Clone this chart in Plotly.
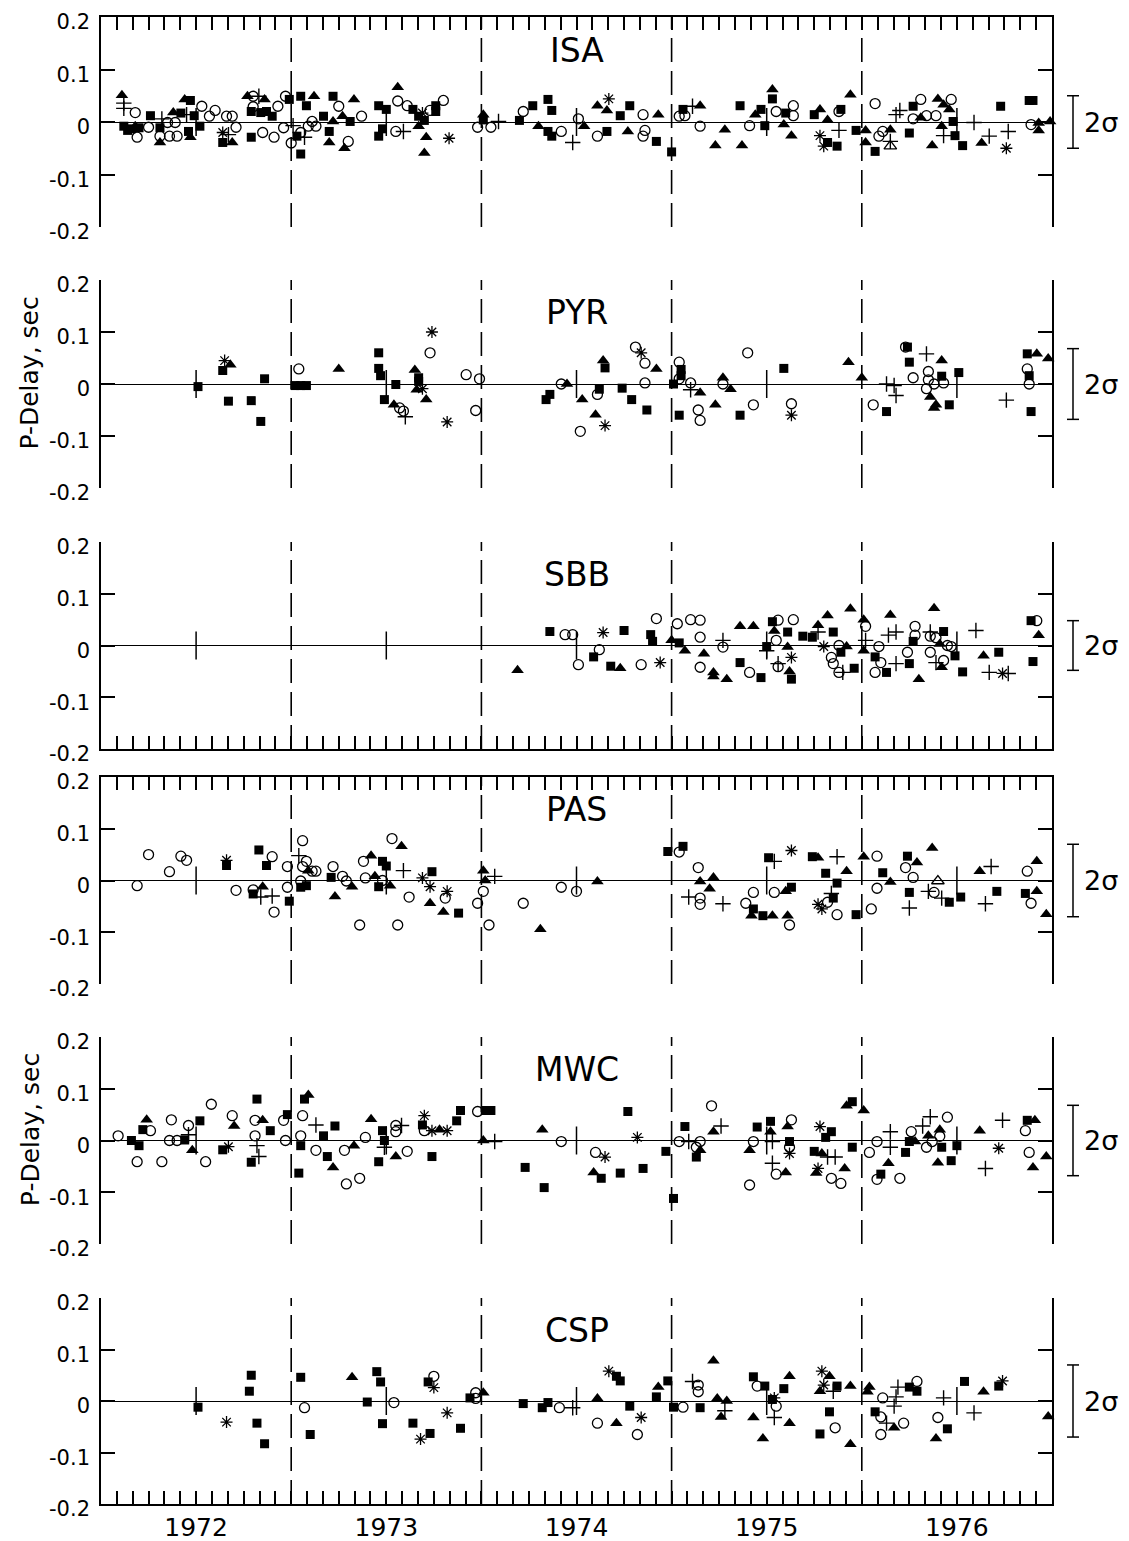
import plotly.graph_objects as go

# ---------------- data ----------------
STATIONS = ["ISA", "PYR", "SBB", "PAS", "MWC", "CSP"]
YEAR_BOUNDS = [1973, 1974, 1975, 1976]
MID_YEARS = [1972.5, 1973.5, 1974.5, 1975.5, 1976.5]
YEAR_LABELS = ["1972", "1973", "1974", "1975", "1976"]
DELAY_TICKS = [-0.2, -0.1, 0, 0.1, 0.2]
DELAY_TICK_TEXT = ["-0.2", "-0.1", "0", "0.1", "0.2"]
TWO_SIGMA_HALF = [0.05, 0.068, 0.048, 0.07, 0.068, 0.07]
# kind codes: S filled square, T filled triangle, O open circle, P plus, X asterisk, t open triangle

ISA_year = [1972.11, 1972.12, 1972.12, 1972.12, 1972.14, 1972.18, 1972.16, 1972.18, 1972.20, 1972.19,
            1972.25, 1972.26, 1972.31, 1972.31, 1972.32, 1972.31, 1972.36, 1972.40, 1972.35, 1972.39,
            1972.38, 1972.42, 1972.44, 1972.47, 1972.45, 1972.46, 1972.47, 1972.49, 1972.52, 1972.53,
            1972.57, 1972.60, 1972.66, 1972.69, 1972.71, 1972.64, 1972.67, 1972.64, 1972.69, 1972.79,
            1972.77, 1972.83, 1972.80, 1972.86, 1972.80, 1972.79, 1972.84, 1972.87, 1972.90, 1972.85,
            1972.91, 1972.93, 1972.97, 1972.96, 1972.99, 1973.00, 1973.01, 1973.03, 1973.05, 1973.05,
            1973.07, 1973.05, 1973.08, 1973.12, 1973.11, 1973.09, 1973.13, 1973.17, 1973.22, 1973.25,
            1973.22, 1973.20, 1973.20, 1973.27, 1973.30, 1973.28, 1973.31, 1973.33, 1973.37, 1973.46,
            1973.50, 1973.46, 1973.48, 1973.55, 1973.56, 1973.56, 1973.61, 1973.64, 1973.69, 1973.67,
            1973.67, 1973.70, 1973.73, 1973.76, 1973.76, 1973.80, 1973.59, 1973.71, 1973.70, 1973.83,
            1974.01, 1974.01, 1973.98, 1974.05, 1974.09, 1974.20, 1974.22, 1974.27, 1974.35, 1974.37,
            1974.30, 1974.35, 1974.37, 1974.42, 1974.48, 1974.51, 1974.54, 1974.61, 1974.67, 1974.66,
            1974.61, 1974.66, 1974.73, 1974.78, 1974.85, 1974.77, 1974.86, 1974.85, 1974.93, 1974.92,
            1975.00, 1975.04, 1975.07, 1975.06, 1975.11, 1975.15, 1975.15, 1975.28, 1975.23, 1975.36,
            1975.37, 1975.41, 1975.44, 1975.47, 1975.49, 1975.53, 1975.53, 1975.55, 1975.60, 1975.64,
            1975.64, 1975.59, 1975.63, 1975.75, 1975.78, 1975.82, 1975.88, 1975.78, 1975.82, 1975.80,
            1975.87, 1975.88, 1975.89, 1975.94, 1975.97, 1976.02, 1976.02, 1976.07, 1976.07, 1976.09,
            1976.11, 1976.15, 1976.15, 1976.15, 1976.18, 1976.20, 1976.25, 1976.27, 1976.27, 1976.31,
            1976.31, 1976.34, 1976.40, 1976.39, 1976.43, 1976.47, 1976.46, 1976.48, 1976.42, 1976.43,
            1976.49, 1976.37, 1976.53, 1976.59, 1976.63, 1976.67, 1976.77, 1976.76, 1976.73, 1976.90,
            1976.88, 1976.89, 1976.93, 1976.93, 1976.99]
ISA_delay = [0.051, 0.036, 0.026, -0.008, -0.016, 0.018, -0.013, -0.008, -0.011, -0.029,
             -0.010, 0.012, -0.039, -0.011, 0.006, -0.027, -0.027, -0.027, -0.001, -0.001,
             0.018, 0.017, 0.043, 0.041, 0.014, -0.018, -0.029, 0.012, -0.008, 0.030,
             0.011, 0.022, 0.011, 0.011, -0.010, -0.020, -0.024, -0.039, -0.039, -0.029,
             0.049, 0.049, 0.049, 0.043, 0.029, 0.020, 0.018, 0.020, 0.011, -0.020,
             -0.029, 0.030, 0.049, -0.011, 0.043, -0.040, -0.007, -0.027, -0.061, -0.020,
             -0.029, 0.049, 0.031, 0.049, 0.001, -0.008, -0.008, 0.011, 0.049, 0.030,
             0.001, -0.018, -0.039, 0.011, -0.037, -0.050, 0.001, 0.043, 0.011, 0.031,
             0.024, -0.027, -0.013, -0.018, 0.066, 0.040, 0.031, 0.024, 0.017, 0.011,
             -0.008, 0.003, 0.022, 0.031, 0.020, 0.041, -0.018, -0.029, -0.059, -0.031,
             0.014, 0.004, -0.010, -0.010, 0.001, 0.003, 0.020, 0.031, 0.043, 0.022,
             -0.008, -0.018, -0.027, -0.018, -0.039, 0.006, -0.008, 0.031, 0.044, 0.022,
             -0.027, -0.018, 0.012, 0.031, 0.014, -0.018, -0.016, -0.027, 0.014, -0.037,
             -0.057, 0.011, 0.012, 0.024, 0.030, 0.031, -0.008, -0.015, -0.045, 0.031,
             -0.045, -0.007, 0.014, 0.024, -0.007, 0.062, 0.044, 0.020, 0.017, 0.031,
             0.012, -0.005, -0.026, 0.014, 0.024, 0.004, -0.016, -0.026, -0.039, -0.046,
             -0.046, 0.020, 0.024, 0.052, -0.016, -0.016, -0.039, 0.035, -0.056, -0.027,
             -0.018, -0.015, -0.046, -0.037, 0.014, 0.022, -0.021, 0.006, 0.030, 0.043,
             0.008, 0.012, 0.044, 0.012, 0.033, 0.043, 0.024, 0.001, -0.008, -0.026,
             -0.026, -0.045, -0.045, -0.001, -0.040, -0.027, -0.018, -0.050, 0.030, 0.041,
             0.041, -0.005, -0.016, -0.002, 0.001]
ISA_kind = ("TPPSSOSTSO" "OSTSPOOOOO" "TSTSPSTSSO" "OOOOOXPSTS" "TPOTOSSSSO"
            "OOOOSOPSSO" "PSSTOOOSSO" "TSTTOTSTOS" "SSSOTOOSXS" "TSOSSOPTTX"
            "TSOOPSOSSS" "TSSOPOTTXT" "OSSSOTOOTS" "SOOSPTOTTS" "TOTSSTSOSO"
            "OTTSTTPXSX" "SOSTSTTOSO" "OTtPPPSOSO" "TOTOTOTSTP" "STSPTPPXSS"
            "SOTTT")

PYR_year = [1972.51, 1972.65, 1972.64, 1972.68, 1972.67, 1972.79, 1972.84, 1972.86, 1973.04, 1973.02,
            1973.05, 1973.08, 1973.25, 1973.46, 1973.46, 1973.47, 1973.49, 1973.55, 1973.54, 1973.57,
            1973.59, 1973.60, 1973.65, 1973.67, 1973.67, 1973.66, 1973.69, 1973.71, 1973.73, 1973.74,
            1973.82, 1973.92, 1973.99, 1973.97, 1974.42, 1974.45, 1974.34, 1974.36, 1974.53, 1974.52,
            1974.60, 1974.65, 1974.62, 1974.61, 1974.64, 1974.65, 1974.74, 1974.79, 1974.87, 1974.81,
            1974.84, 1974.86, 1974.92, 1974.86, 1975.01, 1975.04, 1975.05, 1975.05, 1975.04, 1975.10,
            1975.10, 1975.15, 1975.04, 1975.14, 1975.15, 1975.23, 1975.27, 1975.27, 1975.31, 1975.36,
            1975.43, 1975.40, 1975.59, 1975.63, 1975.63, 1975.93, 1976.00, 1976.06, 1976.13, 1976.13,
            1976.17, 1976.18, 1976.23, 1976.24, 1976.34, 1976.25, 1976.27, 1976.42, 1976.35, 1976.35,
            1976.34, 1976.38, 1976.42, 1976.43, 1976.36, 1976.39, 1976.38, 1976.46, 1976.51, 1976.76,
            1976.87, 1976.92, 1976.98, 1976.87, 1976.88, 1976.88, 1976.89]
PYR_delay = [-0.005, 0.045, 0.026, 0.037, -0.033, -0.032, -0.072, 0.010, 0.029, -0.003,
             -0.003, -0.003, 0.029, 0.060, 0.030, 0.016, -0.030, -0.001, -0.040, -0.046,
             -0.052, -0.063, 0.027, 0.012, 0.005, -0.011, -0.009, -0.030, 0.060, 0.100,
             -0.073, 0.018, 0.010, -0.051, 0.000, 0.000, -0.030, -0.020, -0.030, -0.091,
             -0.059, -0.080, -0.010, -0.020, 0.045, 0.031, -0.008, -0.030, -0.050, 0.071,
             0.060, 0.040, 0.029, 0.002, 0.000, 0.042, 0.028, 0.016, 0.010, 0.002,
             -0.011, -0.017, -0.060, -0.050, -0.070, -0.040, 0.012, 0.000, -0.010, -0.060,
             -0.040, 0.060, 0.030, -0.038, -0.060, 0.042, 0.012, -0.040, -0.053, 0.000,
             -0.003, -0.022, 0.071, 0.071, 0.058, 0.042, 0.012, 0.045, 0.024, 0.008,
             -0.009, 0.000, 0.015, 0.002, -0.025, -0.040, -0.046, -0.040, 0.022, -0.031,
             0.058, 0.058, 0.049, 0.029, 0.016, 0.000, -0.053]
PYR_kind = ("SXSTSSSSOS" "SSTSSSSSTO" "OPTSSTXTOX" "XOOOOTSSTO" "TXSOTSSSSO"
            "XOTOSOSSOO" "PTSOOTTOTS" "OOSOXTTOSP" "PPOSPSOTOO" "OOSOTTTSSP"
            "STTOSOS")

SBB_year = [1974.19, 1974.36, 1974.44, 1974.48, 1974.51, 1974.59, 1974.64, 1974.62, 1974.68, 1974.75,
            1974.73, 1974.84, 1974.89, 1974.92, 1974.90, 1974.94, 1975.00, 1975.03, 1975.10, 1975.15,
            1975.04, 1975.07, 1975.15, 1975.15, 1975.17, 1975.27, 1975.27, 1975.22, 1975.22, 1975.29,
            1975.36, 1975.43, 1975.36, 1975.41, 1975.47, 1975.53, 1975.56, 1975.64, 1975.61, 1975.54,
            1975.55, 1975.50, 1975.50, 1975.61, 1975.56, 1975.56, 1975.63, 1975.62, 1975.63, 1975.69,
            1975.74, 1975.77, 1975.77, 1975.82, 1975.85, 1975.80, 1975.88, 1975.84, 1975.85, 1975.88,
            1975.90, 1975.89, 1975.92, 1975.94, 1975.96, 1976.01, 1976.02, 1976.02, 1976.01, 1976.07,
            1976.09, 1976.10, 1976.07, 1976.13, 1976.15, 1976.14, 1976.18, 1976.18, 1976.24, 1976.25,
            1976.28, 1976.28, 1976.27, 1976.30, 1976.36, 1976.38, 1976.36, 1976.39, 1976.43, 1976.41,
            1976.36, 1976.39, 1976.43, 1976.42, 1976.45, 1976.47, 1976.49, 1976.53, 1976.60, 1976.64,
            1976.72, 1976.67, 1976.74, 1976.77, 1976.89, 1976.92, 1976.93, 1976.90]
SBB_delay = [-0.048, 0.027, 0.021, 0.021, -0.037, -0.022, 0.025, -0.008, -0.040, 0.029,
             -0.044, -0.037, 0.021, 0.052, 0.008, -0.033, 0.010, 0.042, 0.050, 0.049,
             0.005, -0.010, 0.016, -0.042, -0.016, 0.010, -0.003, -0.052, -0.060, -0.065,
             0.037, 0.037, -0.033, -0.052, -0.062, 0.046, 0.049, 0.050, 0.026, 0.028,
             0.010, -0.002, -0.010, -0.003, -0.035, -0.041, -0.023, -0.050, -0.065, 0.018,
             0.016, 0.039, 0.026, 0.058, 0.026, -0.002, 0.000, -0.023, -0.035, -0.052,
             -0.052, -0.013, -0.002, 0.071, -0.044, 0.050, 0.037, 0.010, -0.010, -0.022,
             -0.002, -0.033, -0.052, -0.052, 0.059, 0.020, 0.026, -0.035, -0.013, -0.035,
             0.037, 0.020, 0.008, -0.065, 0.026, 0.072, 0.018, 0.015, 0.027, 0.003,
             -0.013, -0.033, -0.029, -0.042, 0.000, -0.002, -0.020, -0.051, 0.029, -0.020,
             -0.013, -0.052, -0.054, -0.054, 0.048, 0.048, 0.020, -0.031]
SBB_kind = ("TSOOOSXOSS" "TOSOSXTOOO" "STOOTPOTTT" "TTSOSSOOST" "OSPTPOXTSS"
            "STPTSXOOOO" "PSTTSTOPTS" "OOOSTPPPOS" "OOSTPTOOST" "OPOTOOSSPT"
            "SPXPSOTS")

PAS_year = [1972.19, 1972.25, 1972.36, 1972.42, 1972.45, 1972.66, 1972.66, 1972.71, 1972.80, 1972.80,
            1972.84, 1972.90, 1972.85, 1972.83, 1972.87, 1972.90, 1972.91, 1972.98, 1972.98, 1972.99,
            1973.06, 1973.04, 1973.08, 1973.06, 1973.09, 1973.11, 1973.13, 1973.05, 1973.05, 1973.08,
            1973.22, 1973.21, 1973.27, 1973.29, 1973.32, 1973.23, 1973.39, 1973.38, 1973.42, 1973.48,
            1973.50, 1973.44, 1973.46, 1973.48, 1973.52, 1973.53, 1973.58, 1973.59, 1973.62, 1973.36,
            1973.56, 1973.69, 1973.74, 1973.73, 1973.73, 1973.81, 1973.82, 1973.80, 1973.88, 1974.01,
            1974.02, 1974.07, 1974.01, 1973.98, 1974.04, 1974.22, 1974.31, 1974.42, 1974.50, 1974.61,
            1974.98, 1975.06, 1975.04, 1975.14, 1975.15, 1975.22, 1975.20, 1975.09, 1975.15, 1975.15,
            1975.27, 1975.39, 1975.43, 1975.43, 1975.42, 1975.48, 1975.53, 1975.51, 1975.54, 1975.63,
            1975.54, 1975.60, 1975.63, 1975.61, 1975.62, 1975.74, 1975.77, 1975.87, 1975.81, 1975.92,
            1975.87, 1975.84, 1975.85, 1975.77, 1975.79, 1975.82, 1975.87, 1975.97, 1976.01, 1976.08,
            1976.08, 1976.05, 1976.11, 1976.15, 1976.24, 1976.29, 1976.37, 1976.23, 1976.27, 1976.25,
            1976.25, 1976.35, 1976.38, 1976.42, 1976.40, 1976.46, 1976.52, 1976.62, 1976.68, 1976.65,
            1976.71, 1976.87, 1976.92, 1976.86, 1976.92, 1976.89, 1976.97]
PAS_delay = [-0.010, 0.050, 0.017, 0.047, 0.039, 0.029, 0.039, -0.019, -0.018, -0.026,
             -0.032, -0.030, -0.012, 0.059, 0.029, 0.046, -0.061, 0.027, -0.013, -0.040,
             0.077, 0.048, 0.037, 0.027, 0.019, 0.018, 0.018, -0.001, -0.013, -0.010,
             0.027, 0.006, 0.008, -0.001, -0.012, -0.031, 0.005, 0.037, 0.048, 0.037,
             0.028, 0.008, -0.012, 0.000, -0.010, 0.081, 0.066, 0.019, -0.032, -0.086,
             -0.086, 0.005, 0.017, -0.012, -0.044, -0.034, -0.021, -0.061, -0.063, 0.019,
             0.000, 0.008, -0.021, -0.044, -0.086, -0.044, -0.094, -0.013, -0.021, -0.002,
             0.056, 0.066, 0.055, 0.025, -0.002, 0.006, -0.016, -0.032, -0.034, -0.046,
             -0.045, -0.044, -0.023, -0.055, -0.068, -0.068, -0.068, 0.044, 0.037, 0.058,
             -0.023, -0.021, -0.013, -0.068, -0.086, 0.046, 0.044, 0.046, 0.014, 0.018,
             -0.005, -0.025, -0.034, -0.046, -0.055, -0.042, -0.066, -0.066, 0.046, 0.047,
             -0.015, -0.055, 0.015, -0.003, 0.047, 0.035, 0.063, 0.025, 0.006, -0.023,
             -0.053, -0.021, -0.023, -0.034, -0.001, -0.042, -0.032, 0.018, 0.027, -0.045,
             -0.021, 0.018, 0.037, -0.025, -0.021, -0.044, -0.065]
PAS_kind = ("OOOOOSXOOS" "PPTSSOOOOS" "OPOOTOOOSS" "OSOOTTOOTS" "STSOTOTPOO"
            "OXSXTOXTST" "TPOOOOTOOT" "SSOOTTTPOO" "POOSTSTSPX" "OTSTOSTPST"
            "SPSXXOOSTO" "OOSTSTTOOS" "PPOPtSSTPP" "SOTSTOT")

MWC_year = [1972.09, 1972.16, 1972.20, 1972.19, 1972.24, 1972.22, 1972.26, 1972.32, 1972.37, 1972.36,
            1972.40, 1972.44, 1972.46, 1972.46, 1972.48, 1972.52, 1972.55, 1972.58, 1972.64, 1972.67,
            1972.69, 1972.70, 1972.82, 1972.81, 1972.85, 1972.81, 1972.82, 1972.83, 1972.79, 1972.89,
            1972.96, 1972.98, 1972.97, 1973.06, 1973.09, 1973.07, 1973.05, 1973.05, 1973.04, 1973.13,
            1973.13, 1973.17, 1973.19, 1973.22, 1973.23, 1973.28, 1973.33, 1973.29, 1973.36, 1973.39,
            1973.42, 1973.48, 1973.49, 1973.49, 1973.46, 1973.55, 1973.55, 1973.55, 1973.58, 1973.61,
            1973.70, 1973.69, 1973.70, 1973.74, 1973.78, 1973.82, 1973.74, 1973.87, 1973.89, 1973.98,
            1974.02, 1974.05, 1974.01, 1974.07, 1974.23, 1974.32, 1974.33, 1974.42, 1974.60, 1974.65,
            1974.59, 1974.63, 1974.73, 1974.85, 1974.77, 1974.82, 1974.97, 1975.01, 1975.04, 1975.09,
            1975.15, 1975.13, 1975.15, 1975.13, 1975.07, 1975.22, 1975.26, 1975.21, 1975.45, 1975.43,
            1975.41, 1975.41, 1975.52, 1975.52, 1975.53, 1975.53, 1975.55, 1975.60, 1975.63, 1975.61,
            1975.62, 1975.62, 1975.62, 1975.75, 1975.79, 1975.82, 1975.86, 1975.78, 1975.84, 1975.81,
            1975.77, 1975.76, 1975.91, 1975.84, 1975.89, 1975.92, 1975.95, 1976.01, 1975.95, 1976.08,
            1976.04, 1976.08, 1976.10, 1976.14, 1976.20, 1976.15, 1976.15, 1976.23, 1976.26, 1976.25,
            1976.28, 1976.32, 1976.36, 1976.45, 1976.35, 1976.41, 1976.41, 1976.37, 1976.34, 1976.42,
            1976.40, 1976.47, 1976.50, 1976.62, 1976.72, 1976.74, 1976.65, 1976.87, 1976.91, 1976.86,
            1976.88, 1976.90, 1976.97]
MWC_delay = [0.009, 0.000, -0.010, -0.041, 0.040, 0.021, 0.019, -0.041, 0.040, 0.000,
             0.000, 0.001, 0.011, 0.029, -0.019, 0.038, -0.041, 0.070, -0.018, -0.012,
             0.048, 0.028, 0.080, 0.039, 0.039, 0.009, -0.010, -0.031, -0.042, 0.019,
             0.039, 0.050, 0.000, 0.048, 0.088, 0.080, 0.009, -0.010, -0.063, 0.030,
             -0.019, 0.009, -0.031, -0.052, 0.028, -0.019, -0.010, -0.084, -0.073, 0.006,
             0.041, 0.019, 0.000, -0.013, -0.041, -0.031, 0.029, 0.017, 0.029, -0.021,
             0.048, 0.030, 0.019, 0.019, 0.021, 0.019, -0.031, 0.038, 0.058, 0.056,
             0.058, 0.058, 0.000, -0.002, -0.052, 0.021, -0.091, -0.002, -0.023, -0.032,
             -0.062, -0.073, -0.063, -0.054, 0.056, 0.006, -0.021, -0.112, -0.002, -0.002,
             -0.002, -0.013, -0.019, -0.032, 0.027, 0.017, 0.028, 0.067, 0.026, -0.002,
             -0.019, -0.086, 0.037, 0.017, -0.002, -0.044, -0.065, -0.062, 0.040, 0.027,
             -0.002, -0.013, -0.025, -0.021, -0.025, -0.032, -0.032, 0.027, 0.017, 0.006,
             -0.054, -0.063, -0.054, -0.073, -0.083, 0.067, 0.075, 0.058, -0.013, -0.002,
             -0.023, -0.075, -0.065, -0.044, -0.073, 0.017, -0.013, -0.023, 0.017, -0.002,
             -0.002, 0.028, 0.046, 0.045, 0.009, 0.021, 0.008, -0.002, -0.013, -0.013,
             -0.043, -0.039, -0.010, 0.019, -0.015, 0.039, -0.054, 0.039, 0.039, 0.019,
             -0.023, -0.052, -0.031]
MWC_kind = ("OSSOTSOOOO" "OSPOTSOOSX" "OTSOTOPPSS" "OSOOTSOSSP" "OSSTSOTOOO"
            "TSSPSTOOPO" "XSOXTXSSSO" "SSTPSTSOOX" "TSSSSXSSOP" "OOTSSTPOSO"
            "TOSTPPOTOT" "SOXSTPPXSS" "XTTOOTSTSO" "OOSTOPPSOS" "TPPOTTOOOS"
            "TSSTXPPSTO" "OTT")

CSP_year = [1972.51, 1972.66, 1972.78, 1972.79, 1972.82, 1972.86, 1973.05, 1973.07, 1973.10, 1973.32,
            1973.45, 1973.47, 1973.40, 1973.48, 1973.54, 1973.64, 1973.72, 1973.75, 1973.75, 1973.68,
            1973.73, 1973.82, 1973.89, 1973.94, 1973.97, 1973.97, 1974.01, 1974.22, 1974.32, 1974.35,
            1974.41, 1974.48, 1974.61, 1974.67, 1974.71, 1974.73, 1974.61, 1974.71, 1974.84, 1974.82,
            1974.78, 1974.93, 1974.92, 1974.98, 1975.01, 1975.06, 1975.11, 1975.14, 1975.14, 1975.15,
            1975.22, 1975.24, 1975.29, 1975.28, 1975.26, 1975.43, 1975.45, 1975.49, 1975.62, 1975.59,
            1975.54, 1975.53, 1975.55, 1975.43, 1975.54, 1975.62, 1975.48, 1975.79, 1975.83, 1975.80,
            1975.78, 1975.87, 1975.85, 1975.94, 1975.83, 1975.86, 1975.78, 1975.94, 1976.04, 1976.03,
            1976.11, 1976.07, 1976.10, 1976.17, 1976.18, 1976.19, 1976.29, 1976.25, 1976.29, 1976.13,
            1976.17, 1976.22, 1976.10, 1976.43, 1976.40, 1976.45, 1976.39, 1976.54, 1976.59, 1976.64,
            1976.72, 1976.74, 1976.98]
CSP_delay = [-0.012, -0.041, 0.019, 0.050, -0.043, -0.083, 0.046, -0.013, -0.065, 0.046,
             0.057, 0.037, -0.002, -0.044, -0.003, -0.043, 0.037, 0.048, 0.026, -0.074,
             -0.063, -0.023, -0.053, 0.006, 0.016, 0.005, 0.016, -0.005, -0.013, -0.003,
             -0.013, -0.013, 0.005, 0.058, 0.048, 0.039, -0.043, -0.043, -0.032, -0.065,
             -0.010, 0.027, 0.008, 0.039, -0.012, -0.012, 0.038, 0.031, 0.018, -0.013,
             0.078, 0.005, 0.000, -0.019, -0.031, 0.047, 0.029, 0.029, 0.048, 0.024,
             0.006, 0.003, -0.010, -0.032, -0.032, -0.043, -0.073, 0.058, 0.048, 0.031,
             0.019, 0.029, 0.019, 0.029, -0.021, -0.052, -0.064, -0.084, 0.027, 0.018,
             0.006, -0.021, -0.031, -0.010, 0.008, 0.027, 0.038, 0.027, 0.019, -0.043,
             -0.052, -0.043, -0.065, 0.006, -0.032, -0.054, -0.073, 0.038, -0.023, 0.018,
             0.029, 0.039, -0.030]
CSP_kind = ("SXSSSSSOST" "SSSSOSSOXX" "SXSSOOTSSS" "OPTXSSOTXO" "STSSSOPOOS"
            "TTTPTSOSTS" "XSOTPTTXTX" "TSPTSOSTTT" "OSOPPPOSSP" "TOOPOSTSPT"
            "SXT")

STATION_DATA = {
    "ISA": (ISA_year, ISA_delay, ISA_kind),
    "PYR": (PYR_year, PYR_delay, PYR_kind),
    "SBB": (SBB_year, SBB_delay, SBB_kind),
    "PAS": (PAS_year, PAS_delay, PAS_kind),
    "MWC": (MWC_year, MWC_delay, MWC_kind),
    "CSP": (CSP_year, CSP_delay, CSP_kind),
}

# ---------------- styling / layout ----------------
OFF = 8                     # page body margin of the html wrapper
W, H = 1129 - OFF, 1541 - OFF
X_LEFT, X_RIGHT = 101, 1052   # positions measured on the full page
PANEL_PX = [(17, 227), (280, 488), (542, 749), (777, 984), (1037, 1244), (1298, 1504)]
MONTH_TICKS = [1972 + k / 12 for k in range(1, 60)]
FONT = "DejaVu Sans"


def px_x(p):
    return (p - OFF) / W


def px_y(p):
    return 1 - (p - OFF) / H


SYMBOLS = {
    "S": dict(symbol="square", size=9, color="black", line=dict(width=0)),
    "T": dict(symbol="triangle-up", size=11, color="black", line=dict(width=0)),
    "O": dict(symbol="circle-open", size=10, color="black", line=dict(width=1.3, color="black")),
    "P": dict(symbol="cross-thin-open", size=11, color="black", line=dict(width=1.4, color="black")),
    "X": dict(symbol="asterisk-open", size=10, color="black", line=dict(width=1.3, color="black")),
    "t": dict(symbol="triangle-up-open", size=11, color="black", line=dict(width=1.3, color="black")),
}

fig = go.Figure()
shapes = []
annotations = []
layout_axes = {}

for i, st in enumerate(STATIONS):
    n = i + 1
    xa = "x" if n == 1 else f"x{n}"
    ya = "y" if n == 1 else f"y{n}"
    years, delays, kinds = STATION_DATA[st]
    for code, mk in SYMBOLS.items():
        xs = [yv for yv, k in zip(years, kinds) if k == code]
        ys = [dv for dv, k in zip(delays, kinds) if k == code]
        if xs:
            fig.add_trace(go.Scatter(x=xs, y=ys, mode="markers", marker=mk,
                                     xaxis=xa, yaxis=ya, showlegend=False,
                                     hoverinfo="skip", cliponaxis=False))
    # mid-year ticks on the zero line
    fig.add_trace(go.Scatter(x=MID_YEARS, y=[0] * len(MID_YEARS), mode="markers",
                             marker=dict(symbol="line-ns-open", size=20, color="black",
                                         line=dict(width=1.5, color="black")),
                             xaxis=xa, yaxis=ya, showlegend=False, hoverinfo="skip"))

    top, bot = PANEL_PX[i]
    ydom = [px_y(bot), px_y(top)]
    xdom = [px_x(X_LEFT), px_x(X_RIGHT)]

    xaxis = dict(domain=xdom, range=[1972, 1977], anchor=ya, automargin=False,
                 showgrid=False, zeroline=False, fixedrange=True, ticklabeloverflow="allow")
    if n in (1, 4):
        xaxis.update(side="top", showline=True, linecolor="black", linewidth=1.6,
                     ticks="inside", tickvals=MONTH_TICKS, ticklen=13, tickwidth=1.5,
                     tickcolor="black", showticklabels=False)
    elif n in (3, 6):
        ticktext = []
        for t in MONTH_TICKS:
            lab = ""
            for my, yl in zip(MID_YEARS, YEAR_LABELS):
                if abs(t - my) < 1e-6:
                    lab = yl
            ticktext.append(lab)
        xaxis.update(side="bottom", showline=True, linecolor="black", linewidth=1.6,
                     ticks="inside", tickvals=MONTH_TICKS, ticktext=ticktext, ticklen=13,
                     tickwidth=1.5, tickcolor="black",
                     showticklabels=(n == 6),
                     tickfont=dict(family=FONT, size=25, color="black"))
    else:
        xaxis.update(showline=False, ticks="", showticklabels=False)
    yaxis = dict(domain=ydom, range=[-0.2, 0.2], anchor=xa, showgrid=False, automargin=False,
                 showline=True, linecolor="black", linewidth=1.6, mirror="ticks",
                 ticks="inside", ticklen=14, tickwidth=1.5, tickcolor="black",
                 tickvals=DELAY_TICKS, ticktext=DELAY_TICK_TEXT,
                 tickfont=dict(family=FONT, size=21, color="black"),
                 ticklabelstandoff=5, ticklabelshift=5, ticklabeloverflow="allow",
                 zeroline=True, zerolinecolor="black", zerolinewidth=1.3, fixedrange=True)
    layout_axes["xaxis" if n == 1 else f"xaxis{n}"] = xaxis
    layout_axes["yaxis" if n == 1 else f"yaxis{n}"] = yaxis

    # dashed year boundaries
    for yb in YEAR_BOUNDS:
        shapes.append(dict(type="line", xref=xa, yref=ya, x0=yb, x1=yb, y0=-0.2, y1=0.2,
                           line=dict(color="black", width=1.6, dash="24px,9px")))
    # 2 sigma bracket
    s = TWO_SIGMA_HALF[i]
    shapes.append(dict(type="line", xref="paper", yref=ya, x0=px_x(1073), x1=px_x(1073),
                       y0=-s, y1=s, line=dict(color="black", width=1.5)))
    for yy in (-s, s):
        shapes.append(dict(type="line", xref="paper", yref=ya, x0=px_x(1067), x1=px_x(1079),
                           y0=yy, y1=yy, line=dict(color="black", width=1.5)))
    annotations.append(dict(text="2σ", xref="paper", yref=ya, x=px_x(1082), y=0,
                            xanchor="left", yanchor="middle", showarrow=False,
                            font=dict(family=FONT, size=27, color="black")))
    # station label
    annotations.append(dict(text=st, xref=xa, yref=ya, x=1974.5, y=0.137,
                            xanchor="center", yanchor="middle", showarrow=False,
                            font=dict(family=FONT, size=33, color="black")))

for n in (2, 5):
    annotations.append(dict(text="P-Delay, sec", xref="paper", yref=f"y{n}", x=px_x(30), y=0.02,
                            xanchor="center", yanchor="middle", textangle=-90, showarrow=False,
                            font=dict(family=FONT, size=25, color="black")))

fig.update_layout(width=W, height=H, margin=dict(l=0, r=0, t=0, b=0, autoexpand=False),
                  paper_bgcolor="white", plot_bgcolor="white", showlegend=False,
                  shapes=shapes, annotations=annotations, **layout_axes)

fig.write_html("out.html")
